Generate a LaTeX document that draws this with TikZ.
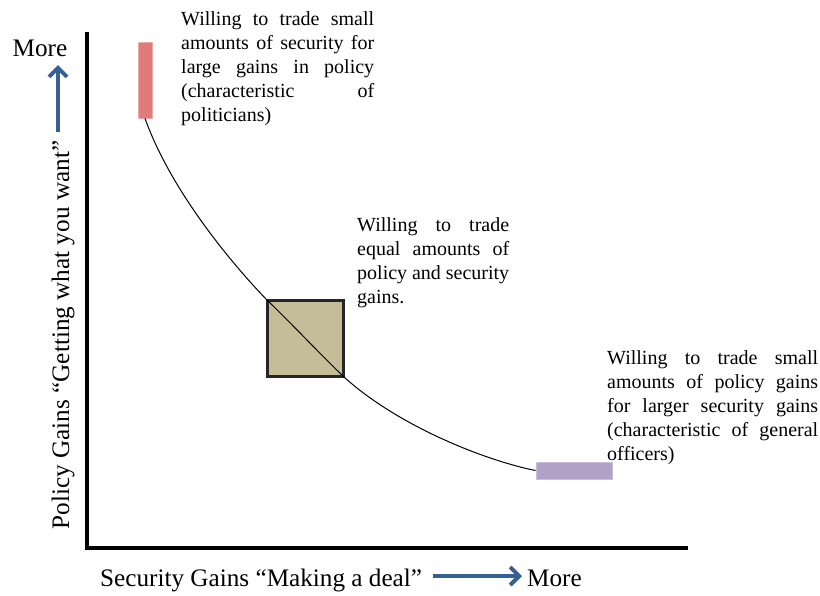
\documentclass[tikz,border=0pt]{standalone}
\usepackage{fontspec}
\setmainfont{Liberation Serif}
\usetikzlibrary{arrows.meta}
\definecolor{dirblue}{RGB}{55,96,146}
\definecolor{pinkbar}{RGB}{224,123,123}
\definecolor{pinkedge}{RGB}{240,170,170}
\definecolor{tanbox}{RGB}{196,189,151}
\definecolor{lilacbar}{RGB}{177,160,199}
\definecolor{lilacedge}{RGB}{200,188,215}
\begin{document}
\begin{tikzpicture}[x=1pt,y=-1pt,
  axisline/.style={line width=4pt},
  dirarrow/.style={dirblue,line width=4pt,-{Straight Barb[length=9pt,width=18pt]}},
  axislabel/.style={font=\fontsize{25.2}{30}\selectfont,inner sep=0pt},
  note/.style={font=\fontsize{20}{24}\selectfont,inner sep=0pt,anchor=north west,align=justify},
  bar/.style={rectangle,inner sep=0pt,line width=0.8pt}
]
\useasboundingbox (0,0) rectangle (820,595);

% axes
\coordinate (ytop) at (87,32);
\coordinate (origin) at (87,547.5);
\coordinate (xend) at (688,547.5);
\draw[axisline] (ytop) -- (origin) -- (xend);

% axis captions and direction arrows
\node[axislabel] (moreY) at (40,48) {More};
\coordinate (upfrom) at (58,132);
\coordinate (upto) at (58,65);
\draw[dirarrow] (upfrom) -- (upto);
\node[axislabel,rotate=90] (ylabel) at (63,335) {Policy Gains “Getting what you want”};

\node[axislabel,anchor=west] (xlabel) at (100,580) {Security Gains “Making a deal”};
\coordinate (rightfrom) at (433,576);
\coordinate (rightto) at (522,576);
\draw[dirarrow] (rightfrom) -- (rightto);
\node[axislabel,anchor=west] (moreX) at (527,578) {More};

% markers on the curve
\node[bar,fill=pinkbar,draw=pinkedge,minimum width=14pt,minimum height=76pt] (pink) at (145,80) {};
\node[bar,fill=tanbox,draw=black!85,line width=3pt,minimum width=76pt,minimum height=76pt] (sq) at (305,338) {};
\node[bar,fill=lilacbar,draw=lilacedge,minimum width=76pt,minimum height=17pt] (lilac) at (574,470.5) {};

% trade-off curve
\draw[line width=1pt] (pink.south)
  .. controls +(24,67) and +(-42,-44) .. (sq.north west)
  .. controls +(25,24) and +(-26,-25) .. (sq.south east)
  .. controls +(57,51) and +(-46,-9) .. (lilac.west);

% annotations
\node[note,text width=193pt] (noteA) at (181,11) {Willing to trade small\linebreak amounts of security for\linebreak large gains in policy\linebreak (characteristic of\linebreak politicians)};
\node[note,text width=152pt] (noteB) at (357,217) {Willing to trade\linebreak equal amounts of\linebreak policy and security\linebreak gains.};
\node[note,text width=211pt] (noteC) at (607,350) {Willing to trade small\linebreak amounts of policy gains\linebreak for larger security gains\linebreak (characteristic of general\linebreak officers)};
\end{tikzpicture}
\end{document}
